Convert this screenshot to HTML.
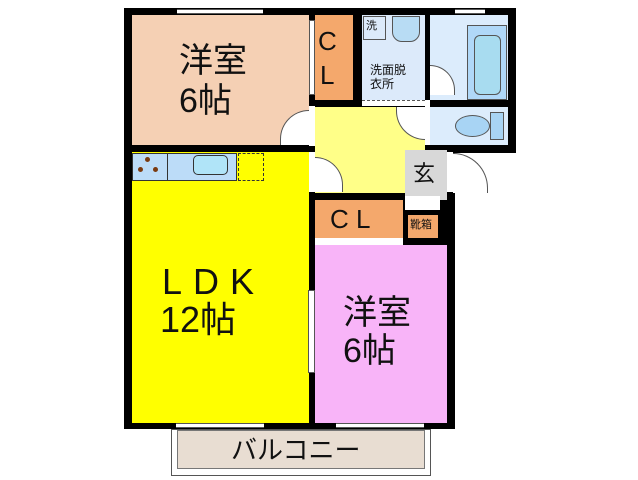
<!DOCTYPE html>
<html><head><meta charset="utf-8"><style>
body{margin:0;width:638px;height:480px;background:#fff;position:relative;overflow:hidden;font-family:"Liberation Sans","Noto Sans CJK JP",sans-serif}
div{position:absolute;box-sizing:border-box}
.t{color:#111;line-height:1;white-space:nowrap}
.win{background:#fff;border-top:1px solid #555;border-bottom:1px solid #555}
</style></head><body>
<div style="left:124px;top:8px;width:392px;height:145px;background:#000"></div>
<div style="left:124px;top:150px;width:331px;height:279px;background:#000"></div>
<div style="left:132px;top:15px;width:177px;height:130px;background:#f5d0b4"></div>
<div style="left:315px;top:15px;width:38px;height:85px;background:#f4a86c"></div>
<div style="left:362px;top:15px;width:63px;height:85px;background:#dceafa"></div>
<div style="left:363px;top:16px;width:23px;height:24px;background:#dceafa;border:1px solid #555"></div>
<div style="left:392px;top:16px;width:28px;height:26px;background:#b8dcf4;border:1px solid #555;border-radius:0 0 10px 10px"></div>
<div style="left:430px;top:15px;width:78px;height:85px;background:#dcecfc"></div>
<div style="left:467px;top:25px;width:40px;height:75px;background:#b0d8f8;border:1px solid #555"></div>
<div style="left:474px;top:35px;width:27px;height:60px;background:#a8dcf0;border:1px solid #555;border-radius:6px"></div>
<div style="left:430px;top:107px;width:78px;height:38px;background:#dcecfc"></div>
<div style="left:455px;top:115px;width:35px;height:22px;background:#a8d4f4;border:1px solid #555;border-radius:50%"></div>
<div style="left:490px;top:112px;width:14px;height:28px;background:#a8d4f4;border:1px solid #555"></div>
<div style="left:315px;top:107px;width:110px;height:43px;background:#ffff88"></div>
<div style="left:315px;top:148px;width:90px;height:45px;background:#ffff88"></div>
<div style="left:405px;top:150px;width:42px;height:50px;background:#d8d8d8"></div>
<div style="left:405px;top:196px;width:35px;height:14px;background:#fff"></div>
<div style="left:453px;top:153px;width:35px;height:40px;background:#fff;border-top:1px solid #555;border-right:1px solid #555;border-radius:0 40px 0 0"></div>
<div style="left:315px;top:200px;width:88px;height:38px;background:#f4a86c"></div>
<div style="left:408px;top:215px;width:30px;height:23px;background:#f4a86c"></div>
<div style="left:132px;top:152px;width:177px;height:271px;background:#ffff00"></div>
<div style="left:132px;top:153px;width:105px;height:28px;background:#bcdcf8;border:1px solid #333"></div>
<div style="left:167px;top:153px;width:1px;height:28px;background:#333"></div>
<div style="left:193px;top:155px;width:35px;height:20px;background:#b0e4f8;border:1px solid #333;border-radius:5px"></div>
<div style="left:238px;top:153px;width:26px;height:28px;border:1px dashed #333"></div>
<div style="left:145px;top:157px;width:5px;height:5px;border-radius:50%;background:#7a3a10"></div>
<div style="left:138px;top:167px;width:5px;height:5px;border-radius:50%;background:#7a3a10"></div>
<div style="left:153px;top:167px;width:5px;height:5px;border-radius:50%;background:#7a3a10"></div>
<div style="left:315px;top:245px;width:132px;height:178px;background:#f8b4f8"></div>
<div style="left:315px;top:238px;width:88px;height:7px;background:#fff"></div>
<div style="left:308px;top:290px;width:7px;height:83px;background:#fff;border:1px solid #555"></div>
<div class="win" style="left:177px;top:9px;width:86px;height:5px"></div>
<div class="win" style="left:455px;top:9px;width:30px;height:5px"></div>
<div class="win" style="left:176px;top:423px;width:88px;height:5px"></div>
<div class="win" style="left:336px;top:423px;width:88px;height:5px"></div>
<div style="left:362px;top:100px;width:63px;height:6px;background:#fff;border-top:1px dashed #555"></div>
<div style="left:309px;top:20px;width:6px;height:75px;background:#fff;border:1px solid #555"></div>
<div style="left:309px;top:106px;width:6px;height:40px;background:#fff"></div>
<div style="left:309px;top:152px;width:6px;height:40px;background:#fff"></div>
<div style="left:425px;top:100px;width:5px;height:45px;background:#fff"></div>
<div style="left:447px;top:152px;width:6px;height:40px;background:#fff"></div>
<div style="left:280px;top:110px;width:29px;height:35px;border-top:1px solid #555;border-left:1px solid #555;border-radius:35px 0 0 0;background:#fff"></div>
<div style="left:315px;top:157px;width:28px;height:35px;border-top:1px solid #555;border-right:1px solid #555;border-radius:0 35px 0 0;background:#fff"></div>
<div style="left:396px;top:107px;width:29px;height:33px;border-bottom:1px solid #555;border-left:1px solid #555;border-radius:0 0 0 33px;background:#fff"></div>
<div style="left:430px;top:65px;width:25px;height:30px;border-top:1px solid #555;border-right:1px solid #555;border-radius:0 30px 0 0;background:#fff"></div>
<div style="left:171px;top:429px;width:260px;height:47px;border:1px solid #555;background:#fff"></div>
<div style="left:177px;top:430px;width:248px;height:39px;background:#e8ddd2;border:1px solid #777"></div>
<div class="t" style="left:179px;top:44px;font-size:34px">洋室</div>
<div class="t" style="left:179px;top:84px;font-size:34px">6帖</div>
<div class="t" style="left:318px;top:28px;font-size:26px">C</div>
<div class="t" style="left:320px;top:62px;font-size:26px">L</div>
<div class="t" style="left:366px;top:21px;font-size:11px">洗</div>
<div class="t" style="left:370px;top:64px;font-size:12px">洗面脱</div>
<div class="t" style="left:370px;top:78px;font-size:12px">衣所</div>
<div class="t" style="left:413px;top:163px;font-size:22px">玄</div>
<div class="t" style="left:330px;top:206px;font-size:26px">C L</div>
<div class="t" style="left:410px;top:220px;font-size:11px">靴箱</div>
<div class="t" style="left:162px;top:264px;font-size:36px;letter-spacing:11px">LDK</div>
<div class="t" style="left:160px;top:302px;font-size:36px">12帖</div>
<div class="t" style="left:343px;top:296px;font-size:34px">洋室</div>
<div class="t" style="left:343px;top:334px;font-size:34px">6帖</div>
<div class="t" style="left:231px;top:437px;font-size:26px">バルコニー</div>
</body></html>
